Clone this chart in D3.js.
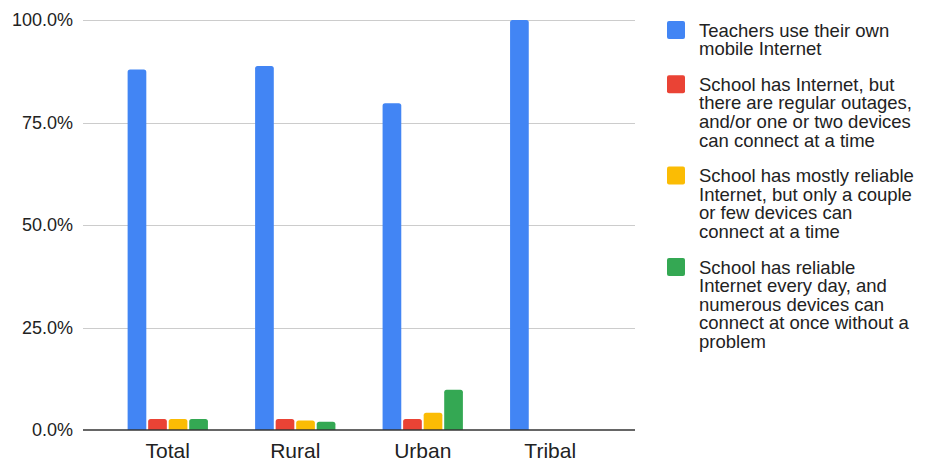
<!DOCTYPE html>
<html><head><meta charset="utf-8">
<script src="https://cdn.jsdelivr.net/npm/d3@7"></script>
<style>body{margin:0;background:#fff;} svg{display:block;font-family:Arial,"Liberation Sans",sans-serif;}</style>
</head><body><svg id="c" width="927" height="459"></svg>
<script>
const categories = ["Total", "Rural", "Urban", "Tribal"];
const seriesNames = [
  "Teachers use their own mobile Internet",
  "School has Internet, but there are regular outages, and/or one or two devices can connect at a time",
  "School has mostly reliable Internet, but only a couple or few devices can connect at a time",
  "School has reliable Internet every day, and numerous devices can connect at once without a problem"
];
const legendLines = [
  ["Teachers use their own", "mobile Internet"],
  ["School has Internet, but", "there are regular outages,", "and/or one or two devices", "can connect at a time"],
  ["School has mostly reliable", "Internet, but only a couple", "or few devices can", "connect at a time"],
  ["School has reliable", "Internet every day, and", "numerous devices can", "connect at once without a", "problem"]
];
const ownMobile = [0.879, 0.888, 0.797, 1.0];
const outages   = [0.027, 0.027, 0.027, 0.0];
const mostly    = [0.027, 0.023, 0.042, 0.0];
const reliable  = [0.027, 0.020, 0.098, 0.0];
const yTicks = [0, 0.25, 0.5, 0.75, 1.0];
const colors = ["#4285F4", "#EA4335", "#FBBC04", "#34A853"];

const series = [ownMobile, outages, mostly, reliable];
const svg = d3.select("#c");
const pLeft = 83, pRight = 635, pTop = 20, pBottom = 430;

const x0 = d3.scaleBand().domain(categories).range([pLeft, pRight]).paddingInner(0.37).paddingOuter(0.35);
const x1 = d3.scaleBand().domain(d3.range(series.length)).range([0, x0.bandwidth()]).paddingInner(0.09).paddingOuter(0);
const y = d3.scaleLinear().domain([0, 1]).range([pBottom, pTop]);

// gridlines
svg.append("g").selectAll("line").data(yTicks.filter(t => t > 0)).join("line")
  .attr("x1", pLeft).attr("x2", pRight)
  .attr("y1", d => Math.round(y(d)) + 0.5).attr("y2", d => Math.round(y(d)) + 0.5)
  .attr("stroke", "#cccccc").attr("stroke-width", 1);

// y labels
const yAxis = d3.axisLeft(y).tickValues(yTicks).tickFormat(d3.format(".1%")).tickSize(0).tickPadding(10);
const ya = svg.append("g").attr("transform", `translate(${pLeft},0)`).call(yAxis);
ya.select(".domain").remove();
ya.selectAll("text").attr("font-size", 18).attr("fill", "#222").attr("font-family", "Arial, 'Liberation Sans', sans-serif");

// bars
function topRounded(x, yTop, w, h, r) {
  if (h <= 0) return "";
  r = Math.min(r, h, w / 2);
  return `M${x},${yTop + h}V${yTop + r}Q${x},${yTop} ${x + r},${yTop}H${x + w - r}Q${x + w},${yTop} ${x + w},${yTop + r}V${yTop + h}Z`;
}
const barData = [];
categories.forEach((c, i) => series.forEach((s, j) => barData.push({ c, j, v: s[i] })));
svg.append("g").selectAll("path").data(barData.filter(d => d.v > 0)).join("path")
  .attr("d", d => {
    const bx = x0(d.c) + x1(d.j);
    return topRounded(bx, y(d.v), x1.bandwidth(), y(0) - y(d.v), 2.5);
  })
  .attr("fill", d => colors[d.j]);

// baseline
svg.append("line").attr("x1", pLeft).attr("x2", pRight).attr("y1", pBottom).attr("y2", pBottom)
  .attr("stroke", "#333").attr("stroke-width", 1.5);

// x labels
const xAxis = d3.axisBottom(x0).tickSize(0).tickPadding(13);
const xa = svg.append("g").attr("transform", `translate(0,${pBottom})`).call(xAxis);
xa.select(".domain").remove();
xa.selectAll("text").attr("font-size", 21).attr("fill", "#222").attr("font-family", "Arial, 'Liberation Sans', sans-serif");

// legend
const lg = svg.append("g");
let ly = 21;
const lineH = 18.6, gap = 17;
legendLines.forEach((lines, i) => {
  const g = lg.append("g");
  g.append("rect").attr("x", 667).attr("y", ly).attr("width", 18).attr("height", 18).attr("rx", 2).attr("fill", colors[i]);
  g.append("text").attr("x", 699).attr("y", ly + 15.5).attr("font-size", 18.5).attr("fill", "#222")
    .selectAll("tspan").data(lines).join("tspan").attr("x", 699).attr("dy", (d, k) => k === 0 ? 0 : lineH).text(d => d);
  g.append("title").text(seriesNames[i]);
  ly += lines.length * lineH + gap;
});
</script></body></html>
